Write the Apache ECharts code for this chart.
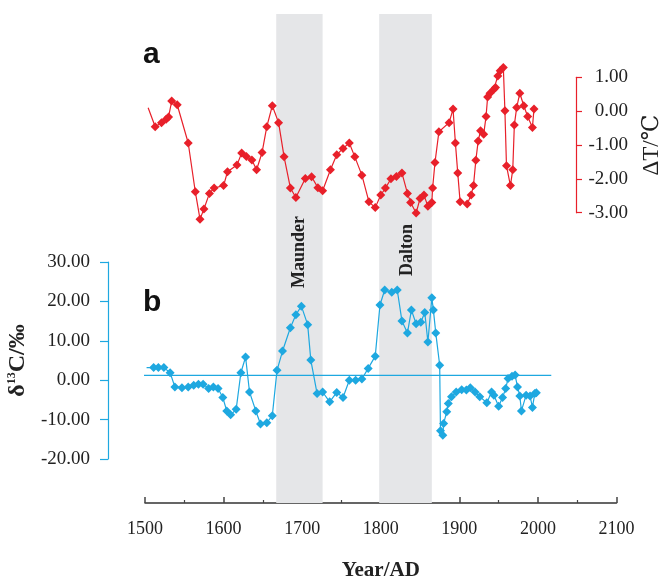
<!DOCTYPE html>
<html>
<head>
<meta charset="utf-8">
<script src="https://cdn.jsdelivr.net/npm/echarts@6/dist/echarts.min.js"></script>
<style>
  html, body { margin: 0; padding: 0; background: #fff; }
  #chart { width: 668px; height: 579px; }
</style>
</head>
<body>
<div id="chart"></div>
<script>
// temperature anomaly (panel a)
const tempYears = [1504, 1513, 1521, 1527, 1530, 1534, 1541, 1555, 1564, 1570, 1575, 1582, 1588, 1600, 1605,
  1617, 1623, 1629, 1636, 1642, 1649, 1655, 1662, 1670, 1677, 1685, 1692, 1704, 1712, 1720, 1726, 1736,
  1744, 1752, 1760, 1767, 1776, 1785, 1793, 1800, 1806, 1813, 1820, 1827, 1834, 1838, 1845, 1850, 1855,
  1860, 1865, 1866, 1869, 1874, 1887, 1892, 1895, 1898, 1901, 1910, 1915, 1918, 1921, 1924, 1927, 1931,
  1934, 1936, 1939, 1944, 1946, 1949, 1952, 1956, 1958, 1960, 1965, 1968, 1970, 1973, 1977, 1982, 1987,
  1993, 1995];
const tempValues = [0.10, -0.46, -0.34, -0.24, -0.17, 0.30, 0.19, -0.94, -2.38, -3.19, -2.89, -2.43, -2.27, -2.20, -1.79,
  -1.59, -1.24, -1.34, -1.44, -1.73, -1.22, -0.46, 0.16, -0.34, -1.35, -2.27, -2.55, -1.99, -1.94, -2.26, -2.35, -1.73,
  -1.29, -1.10, -0.94, -1.35, -1.89, -2.68, -2.85, -2.48, -2.27, -2.00, -1.93, -1.83, -2.43, -2.70, -3.01, -2.58, -2.48,
  -2.81, -2.70, -2.27, -1.52, -0.61, -0.34, 0.06, -0.94, -1.83, -2.68, -2.74, -2.48, -2.20, -1.45, -0.88, -0.58, -0.68,
  -0.16, 0.42, 0.53, 0.65, 0.70, 1.04, 1.19, 1.29, 0.01, -1.61, -2.20, -1.73, -0.41, 0.11, 0.53, 0.16, -0.16,
  -0.48, 0.06];

// delta 13C (panel b)
const carbonYears = [1502, 1511, 1517, 1524, 1532, 1538, 1547, 1555, 1562, 1568, 1574, 1581, 1587, 1593, 1599,
  1604, 1609, 1616, 1622, 1628, 1633, 1641, 1647, 1655, 1662, 1668, 1675, 1685, 1692, 1699, 1707, 1711,
  1719, 1726, 1735, 1744, 1752, 1760, 1768, 1776, 1784, 1793, 1799, 1805, 1814, 1821, 1827, 1834, 1839,
  1845, 1851, 1856, 1860, 1865, 1867, 1870, 1875, 1876, 1879, 1880, 1884, 1886, 1890, 1896, 1903, 1909,
  1914, 1920, 1926, 1935, 1941, 1944, 1950, 1955, 1959, 1962, 1967, 1971, 1974, 1977, 1979, 1985, 1990,
  1993, 1996, 1998];
const carbonValues = [3.2, 3.2, 3.2, 3.2, 1.9, -1.7, -1.9, -1.7, -1.3, -1.0, -1.0, -2.1, -1.7, -2.1, -4.4,
  -7.8, -8.8, -7.4, 1.9, 5.9, -3.0, -7.8, -11.1, -10.8, -9.0, 2.5, 7.4, 13.3, 16.6, 18.8, 14.1, 5.1,
  -3.4, -3.0, -5.5, -3.1, -4.4, 0.0, 0.0, 0.3, 3.0, 6.1, 19.1, 22.9, 22.3, 22.9, 15.0, 12.0, 17.8,
  14.3, 14.7, 17.2, 9.7, 20.9, 17.8, 12.0, 3.8, -12.8, -14.0, -11.0, -8.0, -5.9, -4.2, -3.0, -2.4, -2.5,
  -1.9, -3.0, -4.2, -5.7, -3.0, -3.8, -6.6, -4.4, -2.1, 0.4, 1.0, 1.3, -1.7, -4.0, -7.8, -3.8, -4.0,
  -6.9, -3.4, -3.2];

// mean line of panel b
const baseYears = [1453, 2017];
const baseValue = 1.2;

// solar minima
const bandNames = ['Maunder', 'Dalton'];
const bandStarts = [1667, 1798];
const bandEnds = [1726, 1865];

const RED = '#e8202a';
const BLUE = '#1ea8e0';
const SERIF = '"Liberation Serif", "DejaVu Serif", serif';

const chart = echarts.init(document.getElementById('chart'));

const toPoints = (xs, ys) => xs.map((x, i) => i === 0
  ? { value: [x, ys[i]], symbol: 'none' }
  : [x, ys[i]]);

const hiddenX = (grid) => ({
  type: 'value', gridIndex: grid, min: 1500, max: 2100, interval: 100, show: false
});

const gridBase = { left: 145, right: 51.5, containLabel: false, outerBoundsMode: 'none' };

const option = {
  animation: false,
  backgroundColor: '#fff',
  grid: [
    { ...gridBase, top: 14, bottom: 76 },
    { ...gridBase, top: 77.3, height: 135.4 },
    { ...gridBase, top: 262, height: 197 }
  ],
  xAxis: [
    {
      type: 'value', gridIndex: 0, min: 1500, max: 2100, interval: 100,
      axisLine: { lineStyle: { color: '#333', width: 1.5 } },
      axisTick: { inside: true, length: 6, lineStyle: { color: '#444', width: 1.5 } },
      minorTick: { show: true, splitNumber: 2, length: 3, lineStyle: { color: '#444', width: 1.2 } },
      splitLine: { show: false },
      axisLabel: { color: '#222', fontFamily: SERIF, fontSize: 18, margin: 17, formatter: (v) => String(v) },
      name: 'Year/AD', nameLocation: 'middle', nameGap: 57,
      nameTextStyle: { color: '#222', fontFamily: SERIF, fontSize: 21, fontWeight: 'bold' }
    },
    hiddenX(1),
    hiddenX(2)
  ],
  yAxis: [
    { type: 'value', gridIndex: 0, min: 0, max: 1, show: false },
    {
      type: 'value', gridIndex: 1, position: 'right', offset: -40.5,
      min: -3, max: 1, interval: 1,
      axisLine: { show: true, lineStyle: { color: RED, width: 1.2 } },
      axisTick: { show: true, length: 6, lineStyle: { color: RED, width: 1.2 } },
      splitLine: { show: false },
      axisLabel: {
        color: '#222', fontFamily: SERIF, fontSize: 19, align: 'right', margin: 52,
        formatter: (v) => v.toFixed(2)
      },
      name: 'ΔT/℃', nameLocation: 'middle', nameGap: 64, nameRotate: 90,
      nameTextStyle: { color: '#222', fontFamily: SERIF, fontSize: 23 }
    },
    {
      type: 'value', gridIndex: 2, position: 'left', offset: 37,
      min: -20, max: 30, interval: 10,
      axisLine: { show: true, lineStyle: { color: BLUE, width: 1.2 } },
      axisTick: { show: true, length: 8, lineStyle: { color: BLUE, width: 1.2 } },
      splitLine: { show: false },
      axisLabel: {
        color: '#222', fontFamily: SERIF, fontSize: 19, margin: 18,
        formatter: (v) => v.toFixed(2)
      },
      name: '{d|δ}{s|13}{d|C/‰}', nameLocation: 'middle', nameGap: 78, nameRotate: 90,
      nameTextStyle: {
        rich: {
          d: { fontFamily: SERIF, fontSize: 24, fontWeight: 'bold', color: '#222' },
          s: { fontFamily: SERIF, fontSize: 12, fontWeight: 'bold', color: '#222', verticalAlign: 'top', padding: [0, 0, 8, 0] }
        }
      }
    }
  ],
  series: [
    {
      type: 'line', xAxisIndex: 0, yAxisIndex: 0, z: 0, silent: true,
      data: [[1500, 0], [2100, 0]], symbol: 'none', lineStyle: { opacity: 0 },
      markArea: {
        silent: true,
        itemStyle: { color: '#e5e6e8' },
        label: { show: false },
        data: bandNames.map((n, i) => [{ name: n, xAxis: bandStarts[i] }, { xAxis: bandEnds[i] }])
      }
    },
    {
      type: 'line', xAxisIndex: 1, yAxisIndex: 1, clip: false,
      data: toPoints(tempYears, tempValues),
      symbol: 'diamond', symbolSize: 9,
      itemStyle: { color: RED },
      lineStyle: { color: RED, width: 1.2 }
    },
    {
      type: 'line', xAxisIndex: 2, yAxisIndex: 2, clip: false,
      data: baseYears.map((y) => [y, baseValue]),
      symbol: 'none',
      lineStyle: { color: BLUE, width: 1.2 }
    },
    {
      type: 'line', xAxisIndex: 2, yAxisIndex: 2, clip: false,
      data: toPoints(carbonYears, carbonValues),
      symbol: 'diamond', symbolSize: 9,
      itemStyle: { color: BLUE },
      lineStyle: { color: BLUE, width: 1.2 }
    }
  ],
  graphic: [
    { type: 'text', z: 100, left: 143, top: 40, style: { text: 'a', font: 'bold 30px "Liberation Sans", Arial, sans-serif', fill: '#111' } },
    { type: 'text', z: 100, left: 143, top: 288, style: { text: 'b', font: 'bold 30px "Liberation Sans", Arial, sans-serif', fill: '#111' } },
    { type: 'text', z: 100, x: 299, y: 252, rotation: Math.PI / 2,
      style: { text: 'Maunder', font: 'bold 18px ' + SERIF, fill: '#222', align: 'center', verticalAlign: 'middle' } },
    { type: 'text', z: 100, x: 407, y: 250, rotation: Math.PI / 2,
      style: { text: 'Dalton', font: 'bold 18px ' + SERIF, fill: '#222', align: 'center', verticalAlign: 'middle' } }
  ]
};

chart.setOption(option);
</script>
</body>
</html>
